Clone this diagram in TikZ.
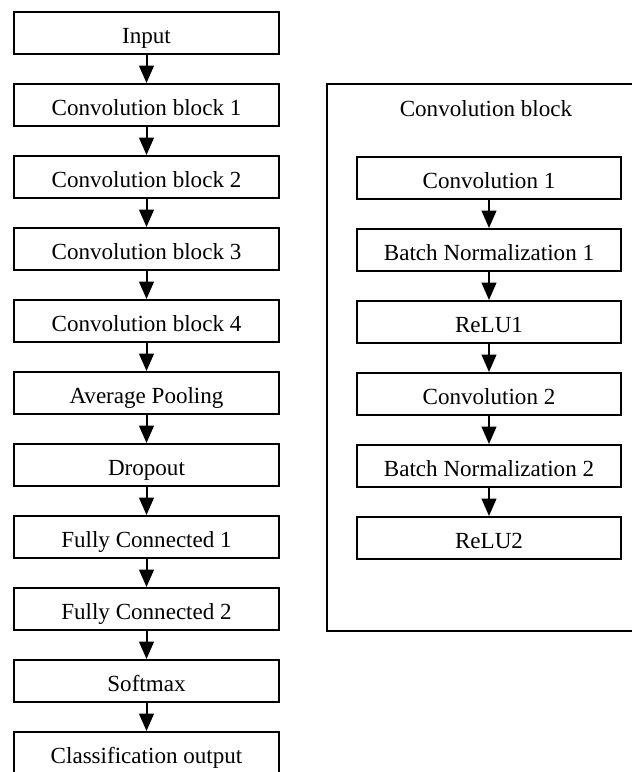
\documentclass[tikz,border=0pt]{standalone}
\usepackage{fontspec}
\setmainfont{Liberation Serif}
\usetikzlibrary{arrows.meta}
\begin{document}
\begin{tikzpicture}[x=0.75pt,y=-0.75pt,
  txt/.style={font=\fontsize{17.3}{20}\selectfont},
  blk/.style={draw,txt,line width=1.5pt,minimum width=198.75pt,minimum height=31.5pt,inner sep=0pt,text height=15pt,text depth=0pt},
  iblk/.style={blk,minimum width=198pt},
  arr/.style={line width=1.5pt,-{Triangle[width=11pt,length=13pt]}}]
\useasboundingbox (0,0) rectangle (632,772);
\begin{scope}
\clip (0,0) rectangle (632,772);
% left column
\foreach \n/\t [count=\i from 0] in {in/Input,cb1/Convolution block 1,cb2/Convolution block 2,cb3/Convolution block 3,cb4/Convolution block 4,ap/Average Pooling,dr/Dropout,fc1/Fully Connected 1,fc2/Fully Connected 2,sm/Softmax,co/Classification output}{
  \node[blk] (\n) at (146.5,{33+72*\i}) {\t};
}
\foreach \a/\b in {in/cb1,cb1/cb2,cb2/cb3,cb3/cb4,cb4/ap,ap/dr,dr/fc1,fc1/fc2,fc2/sm,sm/co}{
  \draw[arr] (\a) -- (\b);
}
% right block
\node[draw,line width=1.5pt,minimum width=240pt,minimum height=410.25pt,inner sep=0pt,anchor=north west] (outer) at (326,83) {};
\node[txt,anchor=base,inner sep=0pt] (title) at (486,116) {Convolution block};
\foreach \n/\t [count=\i from 0] in {c1/Convolution 1,bn1/Batch Normalization 1,r1/ReLU1,c2/Convolution 2,bn2/Batch Normalization 2,r2/ReLU2}{
  \node[iblk] (\n) at (489,{178+72*\i}) {\t};
}
\foreach \a/\b in {c1/bn1,bn1/r1,r1/c2,c2/bn2,bn2/r2}{
  \draw[arr] (\a) -- (\b);
}
\end{scope}
\end{tikzpicture}
\end{document}
